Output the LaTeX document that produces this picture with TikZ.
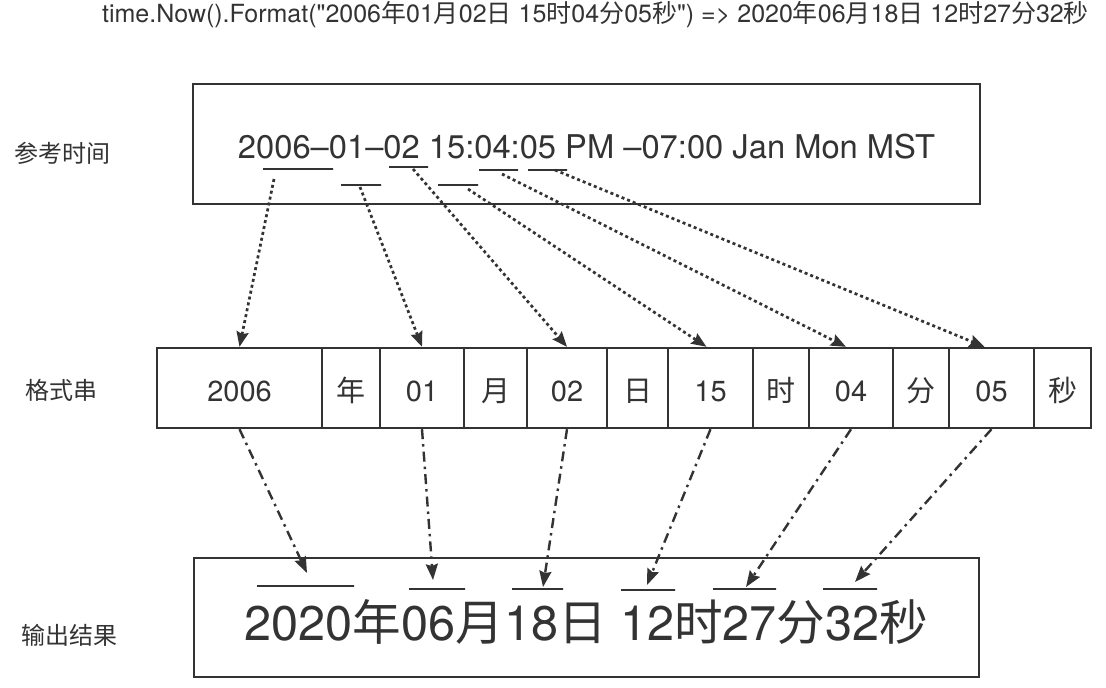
\documentclass[tikz,border=0pt]{standalone}
\usepackage{fontspec}
\setmainfont{TeX Gyre Heros}
\newfontfamily\cjk{Noto Sans CJK SC}
\usetikzlibrary{arrows.meta}
\definecolor{ink}{HTML}{333333}
\newcommand{\zh}[1]{{\cjk #1}}
\begin{document}
\begin{tikzpicture}[x=1pt,y=-1pt,
  bigbox/.style={draw=ink, line width=2.6pt, inner sep=0pt, minimum height=120pt},
  cell/.style={draw=ink, line width=2.4pt, inner sep=0pt, minimum height=80pt,
    text height=27pt, text depth=0pt, text=ink, font=\fontsize{29}{34}\selectfont},
  lbl/.style={text=ink, inner sep=0pt, font=\fontsize{24}{28}\selectfont\cjk},
  uline/.style={draw=ink, line width=2.6pt, inner sep=0pt, minimum height=0pt, minimum width=#1},
  topar/.style={draw=ink, line width=2.7pt, dash pattern=on 3pt off 3pt,
    -{Stealth[length=15pt,width=12pt,inset=2pt]}},
  botar/.style={draw=ink, line width=2.4pt, dash pattern=on 10pt off 5pt on 2.5pt off 5pt,
    -{Stealth[length=16pt,width=12pt,inset=2pt]}}
]
\useasboundingbox (0,0) rectangle (1106,688);
\fill[white] (0,0) rectangle (1106,688);

% title
\node[anchor=base, inner sep=0pt, text=ink, font=\fontsize{25}{29}\selectfont] (title) at (595.5,22)
 {time.Now().Format(\textquotedbl 2006\zh{年}01\zh{月}02\zh{日} 15\zh{时}04\zh{分}05\zh{秒}\textquotedbl) => 2020\zh{年}06\zh{月}18\zh{日} 12\zh{时}27\zh{分}32\zh{秒}};

% row labels
\node[lbl] (l1) at (62,153) {参考时间};
\node[lbl] (l2) at (61.5,390) {格式串};
\node[lbl] (l3) at (69.5,635) {输出结果};

% reference box
\node[bigbox, minimum width=787pt] (ref) at (586.5,144) {};
\node[anchor=base, inner sep=0pt, text=ink, font=\fontsize{32.7}{38}\selectfont] (reftext) at (586.5,158)
 {2006–01–02 15:04:05 PM –07:00 Jan Mon MST};
\node[uline=70pt] (u2006) at (298,169) {};
\node[uline=40pt] (u01) at (361,185) {};
\node[uline=39pt] (u02) at (408.5,167) {};
\node[uline=40pt] (u15) at (458,185) {};
\node[uline=39pt] (u04) at (498.5,170) {};
\node[uline=39pt] (u05) at (547.5,170) {};

% format cells
\node[cell, minimum width=165pt] (c2006) at (239.5,388) {2006};
\node[cell, minimum width=58pt] (cnian) at (351,388) {\zh{年}};
\node[cell, minimum width=84pt] (c01) at (422,388) {01};
\node[cell, minimum width=63pt] (cyue) at (495.5,388) {\zh{月}};
\node[cell, minimum width=80pt] (c02) at (567,388) {02};
\node[cell, minimum width=61pt] (cri) at (637.5,388) {\zh{日}};
\node[cell, minimum width=85pt] (c15) at (710.5,388) {15};
\node[cell, minimum width=56pt] (cshi) at (781,388) {\zh{时}};
\node[cell, minimum width=84pt] (c04) at (851,388) {04};
\node[cell, minimum width=56pt] (cfen) at (921,388) {\zh{分}};
\node[cell, minimum width=85pt] (c05) at (991.5,388) {05};
\node[cell, minimum width=57pt] (cmiao) at (1062.5,388) {\zh{秒}};

% output box
\node[bigbox, minimum width=785pt, minimum height=119pt] (out) at (586.5,617.5) {};
\node[anchor=base, inner sep=0pt, text=ink, font=\fontsize{48.6}{56}\selectfont] (outtext) at (586.5,640)
 {2020\zh{年}06\zh{月}18\zh{日} 12\zh{时}27\zh{分}32\zh{秒}};
\node[uline=97pt] (o2020) at (305.5,586) {};
\node[uline=56pt] (o06) at (437,589) {};
\node[uline=51pt] (o18) at (537.5,589) {};
\node[uline=54pt] (o12) at (648,590) {};
\node[uline=63pt] (o27) at (744.5,589) {};
\node[uline=54pt] (o32) at (850,589) {};

% dotted arrows: reference -> format
\draw[topar] ([xshift=-24pt,yshift=-10pt]u2006.center) -- (c2006.north);
\draw[topar] ([xshift=-1pt,yshift=-2pt]u01.center) -- (c01.north);
\draw[topar] ([xshift=4.5pt,yshift=-2pt]u02.center) -- (c02.north);
\draw[topar] ([xshift=10pt,yshift=-4pt]u15.center) -- ([xshift=-4pt]c15.north);
\draw[topar] ([xshift=3.5pt,yshift=-4pt]u04.center) -- ([xshift=-5pt]c04.north);
\draw[topar] ([xshift=7.5pt]u05.center) -- ([xshift=-7pt]c05.north);

% dash-dot arrows: format -> output
\draw[botar] (c2006.south) -- ([xshift=1.5pt,yshift=13pt]o2020.center);
\draw[botar] (c01.south) -- ([xshift=-4pt,yshift=9pt]o06.center);
\draw[botar] (c02.south) -- ([xshift=5.5pt,yshift=2pt]o18.center);
\draw[botar] (c15.south) -- ([xshift=-1pt,yshift=5pt]o12.center);
\draw[botar] (c04.south) -- ([xshift=1.5pt,yshift=2pt]o27.center);
\draw[botar] (c05.south) -- ([xshift=5pt,yshift=7pt]o32.center);
\end{tikzpicture}
\end{document}
